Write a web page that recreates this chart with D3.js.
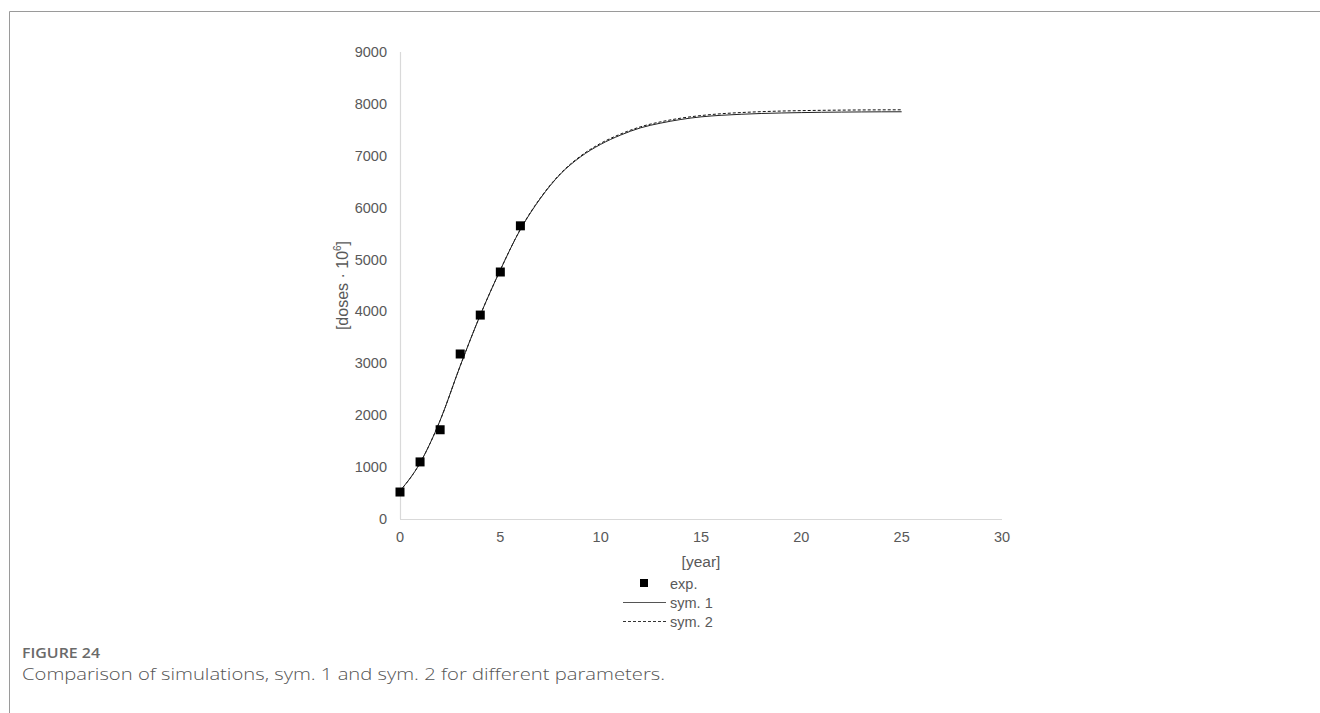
<!DOCTYPE html>
<html>
<head>
<meta charset="utf-8">
<script src="https://cdn.jsdelivr.net/npm/d3@7"></script>
<style>
  html, body { margin: 0; padding: 0; background: #fff; }
  svg { display: block; }
</style>
</head>
<body>
<svg id="chart" width="1320" height="713"></svg>
<script>
// Measured doses (millions) per year
const expYears = [0, 1, 2, 3, 4, 5, 6];
const expValues = [520, 1100, 1720, 3180, 3930, 4760, 5650];

// Simulation curves, sampled yearly
const simYears = [0, 1, 2, 3, 4, 5, 6, 7, 8, 9, 10, 11, 12, 13, 14, 15, 16, 17, 18, 19, 20, 21, 22, 23, 24, 25];
const sym1Values = [540, 1080, 1900, 2950, 3930, 4800, 5580, 6180, 6650, 6980, 7220, 7400, 7540, 7630, 7700, 7750, 7780, 7800, 7815, 7825, 7832, 7838, 7842, 7845, 7847, 7848];
const sym2Values = [540, 1080, 1900, 2950, 3930, 4800, 5585, 6190, 6660, 6995, 7240, 7420, 7560, 7655, 7725, 7775, 7810, 7833, 7850, 7862, 7870, 7876, 7880, 7883, 7885, 7886];

const xTicks = [0, 5, 10, 15, 20, 25, 30];
const yTicks = [0, 1000, 2000, 3000, 4000, 5000, 6000, 7000, 8000, 9000];
const legendLabels = ["exp.", "sym. 1", "sym. 2"];

const svg = d3.select("#chart");
const axisFont = "'Liberation Sans', Arial, sans-serif";
const textGrey = "#595959";

// Frame lines of the figure panel
svg.append("line").attr("x1", 9.5).attr("x2", 1320).attr("y1", 11.5).attr("y2", 11.5)
  .attr("stroke", "#9a9a9a").attr("stroke-width", 1.2);
svg.append("line").attr("x1", 9.5).attr("x2", 9.5).attr("y1", 11.5).attr("y2", 713)
  .attr("stroke", "#9a9a9a").attr("stroke-width", 1);

const x = d3.scaleLinear().domain([0, 30]).range([400, 1002]);
const y = d3.scaleLinear().domain([0, 9000]).range([519, 52]);

// Axis lines
svg.append("line").attr("x1", x(0)).attr("x2", x(30)).attr("y1", y(0) + 0.5).attr("y2", y(0) + 0.5)
  .attr("stroke", "#d9d9d9").attr("stroke-width", 1.2);
svg.append("line").attr("x1", x(0) + 0.5).attr("x2", x(0) + 0.5).attr("y1", y(0)).attr("y2", y(9000))
  .attr("stroke", "#d9d9d9").attr("stroke-width", 1.2);

// Tick labels
svg.append("g").selectAll("text").data(xTicks).join("text")
  .attr("x", d => x(d)).attr("y", 542)
  .attr("text-anchor", "middle")
  .attr("font-family", axisFont).attr("font-size", 14.5).attr("fill", textGrey)
  .text(d => d);

svg.append("g").selectAll("text").data(yTicks).join("text")
  .attr("x", 387).attr("y", d => y(d) + 5)
  .attr("text-anchor", "end")
  .attr("font-family", axisFont).attr("font-size", 14.5).attr("fill", textGrey)
  .text(d => d);

// Axis titles
svg.append("text")
  .attr("x", 701).attr("y", 567)
  .attr("text-anchor", "middle")
  .attr("font-family", axisFont).attr("font-size", 15.5).attr("fill", textGrey)
  .text("[year]");

const yTitle = svg.append("text")
  .attr("transform", `translate(348, ${(y(0) + y(9000)) / 2}) rotate(-90)`)
  .attr("text-anchor", "middle")
  .attr("font-family", axisFont).attr("font-size", 16).attr("fill", textGrey);
yTitle.append("tspan").text("[doses · 10");
yTitle.append("tspan").attr("font-size", 10).attr("dy", -7).text("6");
yTitle.append("tspan").attr("dy", 7).text("]");

// Simulation lines
const line = d3.line().curve(d3.curveMonotoneX);
const sym1 = simYears.map((t, i) => [x(t), y(sym1Values[i])]);
const sym2 = simYears.map((t, i) => [x(t), y(sym2Values[i])]);

svg.append("path").attr("d", line(sym2))
  .attr("fill", "none").attr("stroke", "#111").attr("stroke-width", 1)
  .attr("stroke-dasharray", "3,2");
svg.append("path").attr("d", line(sym1))
  .attr("fill", "none").attr("stroke", "#222").attr("stroke-width", 1);

// Measured points
const sq = 9;
svg.append("g").selectAll("rect").data(expYears).join("rect")
  .attr("x", (d) => x(d) - sq / 2)
  .attr("y", (d, i) => y(expValues[i]) - sq / 2)
  .attr("width", sq).attr("height", sq)
  .attr("fill", "#000");

// Legend
const lg = svg.append("g").attr("font-family", axisFont).attr("font-size", 14.5).attr("fill", textGrey);
lg.append("rect").attr("x", 640).attr("y", 579).attr("width", 8).attr("height", 8).attr("fill", "#000");
lg.append("line").attr("x1", 623).attr("x2", 666).attr("y1", 602.5).attr("y2", 602.5)
  .attr("stroke", "#555").attr("stroke-width", 1);
lg.append("line").attr("x1", 623).attr("x2", 666).attr("y1", 621.5).attr("y2", 621.5)
  .attr("stroke", "#333").attr("stroke-width", 1).attr("stroke-dasharray", "3,2");
lg.selectAll("text").data(legendLabels).join("text")
  .attr("x", 670).attr("y", (d, i) => 588.5 + i * 19)
  .text(d => d);

// Caption
svg.append("text").attr("x", 22).attr("y", 658)
  .attr("font-family", "'Open Sans', sans-serif").attr("font-size", 14).attr("font-weight", 600)
  .attr("textLength", 78).attr("lengthAdjust", "spacingAndGlyphs")
  .attr("fill", "#6a6a6a").text("FIGURE 24");
svg.append("text").attr("x", 22).attr("y", 680)
  .attr("font-family", "'Open Sans', sans-serif").attr("font-size", 17).attr("font-weight", 300)
  .attr("textLength", 643).attr("lengthAdjust", "spacingAndGlyphs")
  .attr("fill", "#555").text("Comparison of simulations, sym. 1 and sym. 2 for different parameters.");
</script>
</body>
</html>
